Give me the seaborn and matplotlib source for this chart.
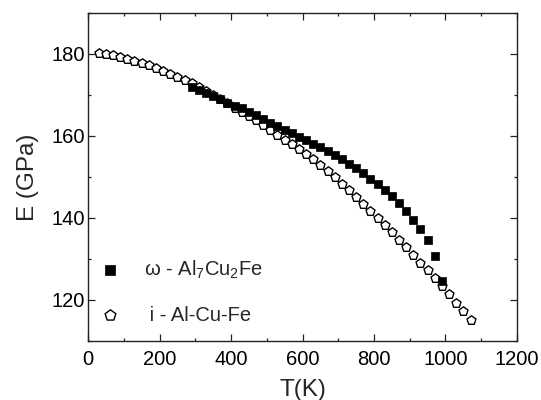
import matplotlib
matplotlib.use("Agg")
import matplotlib.pyplot as plt
from matplotlib.ticker import MultipleLocator
import seaborn as sns

# i-phase (pentagons)
t_i = [30, 50, 70, 90, 110, 130, 150, 170, 190, 210, 230, 250, 270, 290,
       310, 330, 350, 370, 390, 410, 430, 450, 470, 490, 510, 530, 550, 570,
       590, 610, 630, 650, 670, 690, 710, 730, 750, 770, 790, 810, 830, 850,
       870, 890, 910, 930, 950, 970, 990, 1010, 1030, 1050, 1070]
e_i = [180.2, 179.9, 179.6, 179.2, 178.8, 178.3, 177.8, 177.2, 176.6, 175.9,
       175.2, 174.4, 173.6, 172.8, 171.9, 171.0, 169.9, 168.9, 167.9, 166.9,
       165.8, 164.8, 163.8, 162.7, 161.5, 160.3, 159.1, 157.9, 156.7, 155.5,
       154.3, 152.9, 151.4, 149.9, 148.3, 146.7, 145.1, 143.4, 141.7, 140.0,
       138.3, 136.5, 134.7, 132.9, 131.0, 129.1, 127.2, 125.3, 123.4, 121.4,
       119.3, 117.2, 115.0]

# omega-phase (squares)
t_w = [290, 310, 330, 350, 370, 390, 410, 430, 450, 470, 490, 510, 530, 550,
       570, 590, 610, 630, 650, 670, 690, 710, 730, 750, 770, 790, 810, 830,
       850, 870, 890, 910, 930, 950, 970, 990]
e_w = [172.0, 171.3, 170.5, 169.7, 168.9, 168.1, 167.4, 166.7, 165.9, 165.0,
       164.1, 163.2, 162.4, 161.5, 160.7, 159.8, 158.9, 158.1, 157.2, 156.3,
       155.3, 154.3, 153.2, 152.1, 150.9, 149.6, 148.3, 146.9, 145.3, 143.7,
       141.7, 139.6, 137.2, 134.5, 130.7, 124.6]

label_w = r'$\omega$ - Al$_7$Cu$_2$Fe'
label_i = ' i - Al-Cu-Fe'

sns.set_theme(style="ticks")
plt.rcParams['font.family'] = ['Liberation Sans', 'DejaVu Sans']
plt.rcParams['mathtext.fontset'] = 'custom'
plt.rcParams['mathtext.rm'] = 'Liberation Sans'
plt.rcParams['mathtext.it'] = 'Liberation Sans'

fig, ax = plt.subplots(figsize=(5.41, 4.0), dpi=100)
fig.subplots_adjust(left=0.1627, right=0.9556, bottom=0.1475, top=0.968)

sns.scatterplot(x=t_i, y=e_i, marker='p', s=46, color='white',
                edgecolor='black', linewidth=1.0, label=label_i, zorder=2, ax=ax)
sns.scatterplot(x=t_w, y=e_w, marker='s', s=34, color='black',
                edgecolor='black', linewidth=0.5, label=label_w, zorder=3, ax=ax)

ax.set_xlim(0, 1200)
ax.set_ylim(110, 190)
ax.xaxis.set_major_locator(MultipleLocator(200))
ax.xaxis.set_minor_locator(MultipleLocator(100))
ax.yaxis.set_major_locator(MultipleLocator(20))
ax.yaxis.set_minor_locator(MultipleLocator(10))
ax.tick_params(which='both', direction='in', top=True, right=True,
               width=0.9, color='#222222', labelsize=14.5, labelcolor='black')
ax.tick_params(which='major', length=4.8)
ax.tick_params(which='minor', length=2.4)
ax.tick_params(axis='x', pad=6.5)
ax.tick_params(axis='y', pad=2.5)
for sp in ax.spines.values():
    sp.set_linewidth(1.0)
    sp.set_color('#222222')

ax.set_xlabel('T(K)', fontsize=17.5, labelpad=7)
ax.set_ylabel('E (GPa)', fontsize=17.5, labelpad=9)

handles, labels = ax.get_legend_handles_labels()
ax.legend(handles[::-1], labels[::-1], loc='lower left',
          bbox_to_anchor=(0.01, 0.025), borderaxespad=0, frameon=False,
          fontsize=14.5, handlelength=1.0, handletextpad=1.15,
          labelspacing=1.25, markerscale=1.2)

fig.savefig('out.png', dpi=100)
